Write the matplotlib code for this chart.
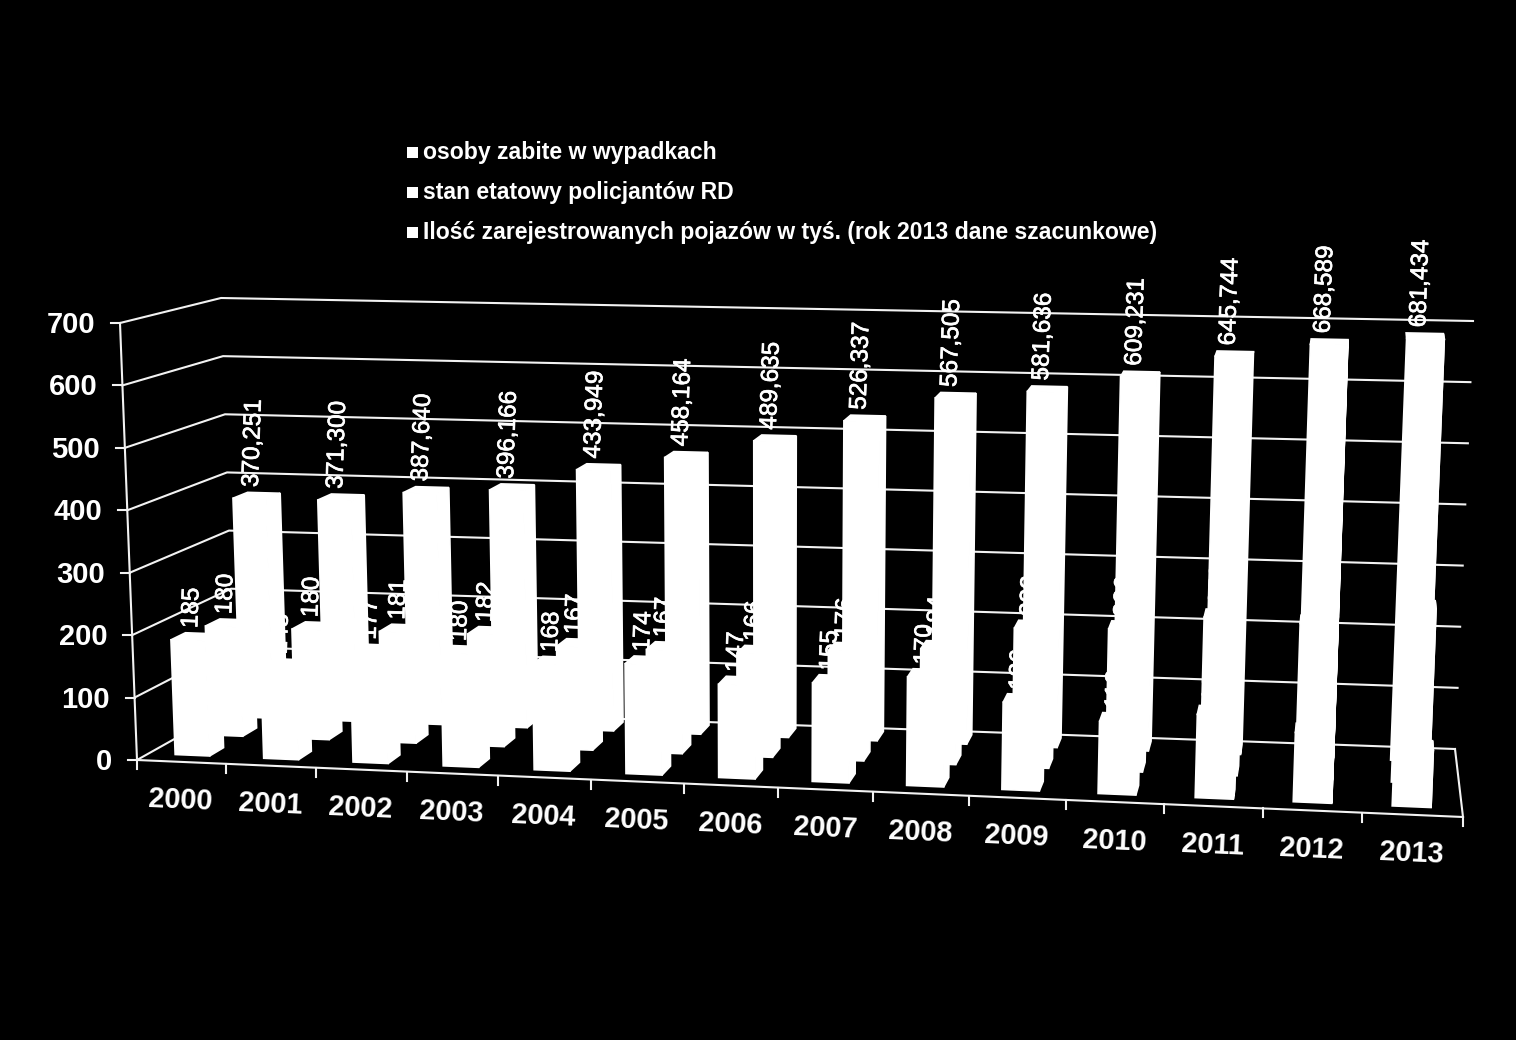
import numpy as np
import matplotlib
matplotlib.use("Agg")
import matplotlib.pyplot as plt
import matplotlib.patheffects as pe
from matplotlib.patches import Polygon, Rectangle

plt.rcParams['font.family'] = ['Liberation Sans', 'DejaVu Sans']

years = [2000, 2001, 2002, 2003, 2004, 2005, 2006, 2007, 2008, 2009, 2010, 2011, 2012, 2013]
zabite = [185, 148, 177, 180, 168, 174, 147, 155, 170, 136, 112, 129, 107, 88]
etaty = [180, 180, 181, 182, 167, 167, 166, 176, 184, 222, 226, 250, 245, 275]
pojazdy = [370.251, 371.300, 387.640, 396.166, 433.949, 458.164, 489.635,
           526.337, 567.505, 581.636, 609.231, 645.744, 668.589, 681.434]
legend_names = ["osoby zabite w wypadkach",
                "stan etatowy policjantów RD",
                "Ilość zarejestrowanych pojazów w tyś. (rok 2013 dane szacunkowe)"]
y_ticks = [0, 100, 200, 300, 400, 500, 600, 700]

# corners of the 3d box in pixels: (front/back, left/right, floor/top)
FL0, FR0 = np.array([137., 760.]), np.array([1463., 817.])
BL0, BR0 = np.array([235., 705.]), np.array([1455., 749.])
FL7, FR7 = np.array([120., 323.]), np.array([1482., 357.])
BL7, BR7 = np.array([221., 298.]), np.array([1473., 321.])
YMAX = 700.
PERSP = 0.937  # year slots get wider to the right


def proj(cat, depth, val):
    s = cat / len(years)
    u = PERSP * s / (1 - (1 - PERSP) * s)
    v = val / YMAX
    f0 = FL0 + (FR0 - FL0) * u
    b0 = BL0 + (BR0 - BL0) * u
    f7 = FL7 + (FR7 - FL7) * u
    b7 = BL7 + (BR7 - BL7) * u
    p0 = f0 + (b0 - f0) * depth
    p7 = f7 + (b7 - f7) * depth
    return p0 + (p7 - p0) * v


def bar(ax, i, w0, val):
    x0, x1 = i + 0.30, i + 0.69
    w1 = w0 + 0.15
    faces = [
        [proj(x0, w0, 0), proj(x1, w0, 0), proj(x1, w0, val), proj(x0, w0, val)],
        [proj(x1, w0, 0), proj(x1, w1, 0), proj(x1, w1, val), proj(x1, w0, val)],
        [proj(x0, w0, val), proj(x1, w0, val), proj(x1, w1, val), proj(x0, w1, val)],
    ]
    for f in faces:
        ax.add_patch(Polygon(f, closed=True, fc="white", ec="white", lw=1.2, zorder=3))
    return proj(i + 0.45, w0 + 0.08, val)


fig = plt.figure(figsize=(15.16, 10.4), dpi=100, facecolor="black")
ax = fig.add_axes([0, 0, 1, 1])
ax.set_xlim(0, 1516)
ax.set_ylim(1040, 0)
ax.axis("off")

line = dict(color="#f2f2f2", lw=1.5, solid_capstyle="projecting", zorder=1)

# walls
for t in y_ticks:
    a, b, c = proj(0, 0, t), proj(0, 1, t), proj(len(years), 1, t)
    ax.plot([a[0], b[0], c[0]], [a[1], b[1], c[1]], **line)
    ax.plot([a[0] - 9, a[0]], [a[1], a[1]], **line)
    ax.text(a[0] - 25, a[1] + 2, str(t), color="white", fontsize=21, fontweight="bold",
            ha="right", va="center")
p = [proj(0, 0, 0), proj(0, 0, YMAX)]
ax.plot([p[0][0], p[1][0]], [p[0][1], p[1][1]], **line)
p = [proj(len(years), 1, 0), proj(len(years), 0, 0)]
ax.plot([p[0][0], p[1][0]], [p[0][1], p[1][1]], **line)

# floor front edge, ticks and years
p = [proj(0, 0, 0), proj(len(years), 0, 0)]
ax.plot([p[0][0], p[1][0]], [p[0][1], p[1][1]], **line)
for i in range(len(years) + 1):
    a = proj(i, 0, 0)
    ax.plot([a[0], a[0]], [a[1], a[1] + 9], **line)
for i, yr in enumerate(years):
    a = proj(i + 0.49, 0, 0)
    ax.text(a[0], a[1] + 39, str(yr), color="white", fontsize=20.8, fontweight="bold",
            ha="center", va="center", rotation=-2.5, rotation_mode="anchor")

# bars, all white so the labels just vanish where they run over a bar
for i in range(len(years)):
    tops = [bar(ax, i, 0.12, zabite[i]), bar(ax, i, 0.475, etaty[i]), bar(ax, i, 0.80, pojazdy[i])]
    labels = [str(zabite[i]), str(etaty[i]), f"{pojazdy[i]:.3f}".replace(".", ",")]
    for pt, lab in zip(tops, labels):
        ax.text(pt[0], pt[1] - 8, lab, color="white", fontsize=17.5, rotation=88,
                ha="center", va="bottom", zorder=2,
                path_effects=[pe.withStroke(linewidth=0.5, foreground="white")])

# legend
for k, name in enumerate(legend_names):
    yy = 152 + 40 * k
    ax.add_patch(Rectangle((407, yy - 5), 11, 11, fc="white", ec="none"))
    ax.text(423, yy + 1, name, color="white", fontsize=16.6, fontweight="bold", va="center", ha="left")

fig.savefig("out.png", dpi=100, facecolor="black")
